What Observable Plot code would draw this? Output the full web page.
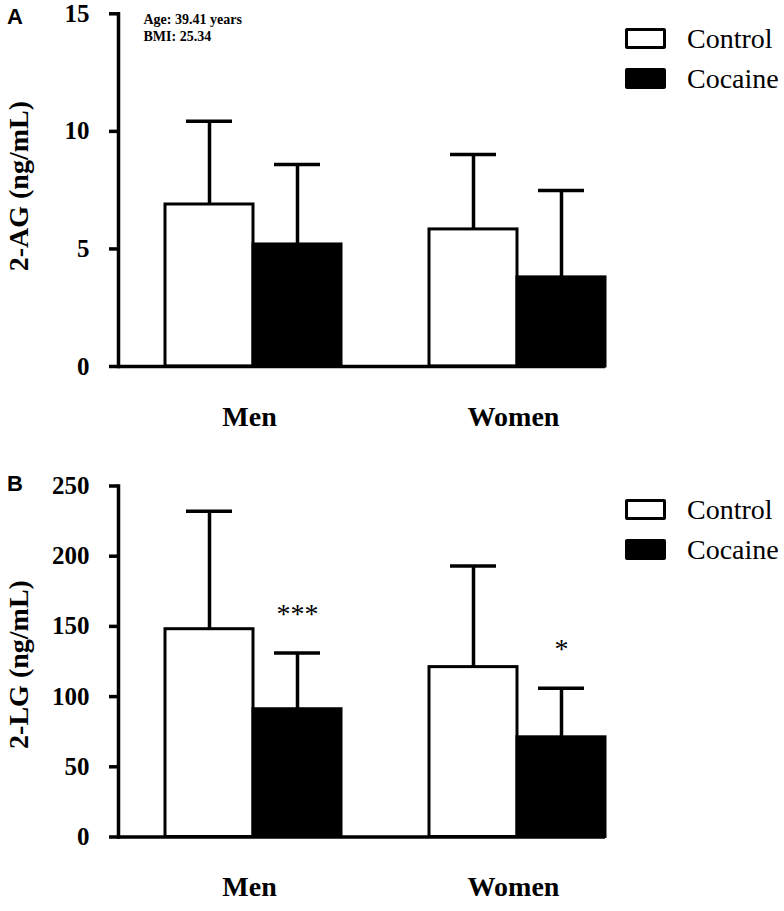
<!DOCTYPE html>
<html>
<head>
<meta charset="utf-8">
<script src="https://cdn.jsdelivr.net/npm/d3@7"></script>
<script src="https://cdn.jsdelivr.net/npm/@observablehq/plot@0.6"></script>
<style>
  html, body { margin: 0; padding: 0; background: #fff; }
  #root { position: relative; width: 784px; height: 911px; overflow: hidden; }
  .panel { position: relative; width: 784px; }
  .panel svg { display: block; }
  .lg-box { position: absolute; box-sizing: border-box; width: 41px; height: 21px; border: 3px solid #000; border-radius: 2px; }
  .lg-text { position: absolute; font-family: "Liberation Serif", "Times New Roman", serif; font-size: 28px; line-height: 28px; color: #000; white-space: nowrap; }
  .letter { position: absolute; left: 7px; font-family: "Liberation Sans", Arial, sans-serif; font-weight: bold; font-size: 22px; line-height: 22px; color: #000; }
</style>
</head>
<body>
<div id="root"></div>
<script>
// ---------- data ----------
const groups = ["Men", "Women"];
const series = ["Control", "Cocaine"];
// order: Men-Control, Men-Cocaine, Women-Control, Women-Cocaine
const agMean = [6.89, 5.19, 5.83, 3.79];
const agSD   = [3.54, 3.40, 3.19, 3.70];
const lgMean = [148, 91, 121, 71];
const lgSD   = [84, 40, 72, 35];
const lgSig  = ["", "***", "", "*"];
const agTicks = [0, 5, 10, 15];
const lgTicks = [0, 50, 100, 150, 200, 250];
const agLabel = "2-AG (ng/mL)";
const lgLabel = "2-LG (ng/mL)";
const demoText = "Age: 39.41 years\nBMI: 25.34";

// ---------- helpers ----------
const key = (g, s) => g + "|" + s;
const spacer = " ";
const xDomain = [key("Men","Control"), key("Men","Cocaine"), spacer, key("Women","Control"), key("Women","Cocaine")];

function buildRows(means, sds, sigs) {
  const rows = [];
  let i = 0;
  for (const g of groups) for (const s of series) {
    rows.push({group: g, series: s, key: key(g, s), mean: means[i], top: means[i] + sds[i], sig: sigs ? sigs[i] : ""});
    i++;
  }
  return rows;
}

const serif = "Liberation Serif, Times New Roman, serif";

function panel({rows, ticks, label, labelDy, height, marginTop, marginBottom, extra = []}) {
  const maxY = ticks[ticks.length - 1];
  return Plot.plot({
    width: 784,
    height,
    marginLeft: 118,
    marginRight: 179,
    marginTop,
    marginBottom,
    style: {fontFamily: serif, color: "#000", background: "#fff", overflow: "visible"},
    x: {type: "band", domain: xDomain, range: [164, 605], padding: 0, axis: null},
    y: {domain: [0, maxY], axis: null},
    color: {domain: series, range: ["#fff", "#000"]},
    marks: [
      Plot.barY(rows, {x: "key", y1: 0, y2: "mean", fill: "series", stroke: "#000", strokeWidth: 3}),
      Plot.ruleX(rows, {x: "key", y1: "mean", y2: "top", stroke: "#000", strokeWidth: 3.5}),
      Plot.tickY(rows, {x: "key", y: "top", stroke: "#000", strokeWidth: 3.5, insetLeft: 21, insetRight: 21}),
      Plot.ruleY([0], {stroke: "#000", strokeWidth: 3.5}),
      Plot.frame({anchor: "left", stroke: "#000", strokeWidth: 3.5}),
      Plot.axisY({ticks, tickSize: 9, tickPadding: 20, strokeWidth: 3.5, fontSize: 25, fontWeight: "bold", fontFamily: serif, label: null}),
      Plot.text([label], {text: d => d, frameAnchor: "left", textAnchor: "middle", lineAnchor: "middle", rotate: -90, dx: -99, dy: labelDy, fontSize: 28, fontWeight: "bold", fontFamily: serif}),
      Plot.text(groups, {text: d => d, x: g => key(g, "Cocaine"), frameAnchor: "bottom", dx: -48, dy: 59, fontSize: 28, fontWeight: "bold", fontFamily: serif}),
      ...extra
    ]
  });
}

function legend(container, topOffset) {
  series.forEach((s, i) => {
    const box = document.createElement("div");
    box.className = "lg-box";
    box.style.left = "625px";
    box.style.top = (topOffset + i * 40) + "px";
    box.style.background = s === "Control" ? "#fff" : "#000";
    container.appendChild(box);
    const t = document.createElement("div");
    t.className = "lg-text";
    t.style.left = "687px";
    t.style.top = (topOffset - 3 + i * 40) + "px";
    t.textContent = s;
    container.appendChild(t);
  });
}

function letter(container, txt, top) {
  const d = document.createElement("div");
  d.className = "letter";
  d.style.top = top + "px";
  d.textContent = txt;
  container.appendChild(d);
}

const root = document.getElementById("root");

// ---------- Panel A ----------
const rowsA = buildRows(agMean, agSD);
const divA = document.createElement("div");
divA.className = "panel";
divA.style.height = "460px";
divA.appendChild(panel({
  rows: rowsA, ticks: agTicks, label: agLabel, labelDy: -4,
  height: 460, marginTop: 13.3, marginBottom: 94,
  extra: [
    Plot.text([demoText], {text: d => d, frameAnchor: "top-left", textAnchor: "start", lineAnchor: "top", dx: 25, dy: -2.6, fontSize: 14, lineHeight: 1.25, fontWeight: "bold", fontFamily: serif})
  ]
}));
legend(divA, 27.5);
letter(divA, "A", 6);
root.appendChild(divA);

// ---------- Panel B ----------
const rowsB = buildRows(lgMean, lgSD, lgSig);
const divB = document.createElement("div");
divB.className = "panel";
divB.style.height = "451px";
divB.appendChild(panel({
  rows: rowsB, ticks: lgTicks, label: lgLabel, labelDy: 3,
  height: 451, marginTop: 25.5, marginBottom: 74.5,
  extra: [
    Plot.text(rowsB.filter(d => d.sig), {x: "key", y: "top", text: "sig", dy: -39, fontSize: 28, fontWeight: "normal", fontFamily: serif})
  ]
}));
legend(divB, 38.5);
letter(divB, "B", 13);
root.appendChild(divB);
</script>
</body>
</html>
